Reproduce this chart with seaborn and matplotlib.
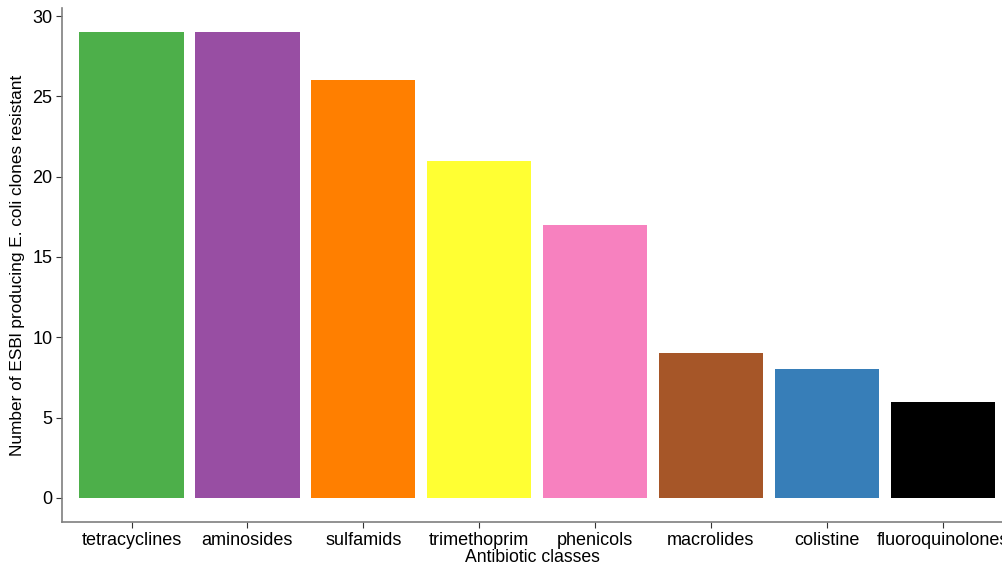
import matplotlib
matplotlib.use("Agg")
import matplotlib.pyplot as plt
import pandas as pd
import seaborn as sns

classes = ["tetracyclines", "aminosides", "sulfamids", "trimethoprim",
           "phenicols", "macrolides", "colistine", "fluoroquinolones"]
n_resistant = [29, 29, 26, 21, 17, 9, 8, 6]
bar_colors = ["#4DAF4A", "#984EA3", "#FF7F00", "#FFFF33",
              "#F781BF", "#A65628", "#377EB8", "#000000"]

df = pd.DataFrame({"cls": classes, "n": n_resistant})

sns.set_style("white")
plt.rcParams["font.family"] = ["Liberation Sans", "DejaVu Sans"]

fig = plt.figure(figsize=(10.03, 5.67), dpi=100)
ax = fig.add_axes([62 / 1003, 45 / 567, 941 / 1003, 514 / 567])

sns.barplot(data=df, x="cls", y="n", hue="cls", palette=bar_colors,
            order=classes, hue_order=classes, width=0.9, legend=False,
            saturation=1, linewidth=0, ax=ax)

ax.set_xlim(-0.6, 7.52)
ax.set_ylim(-1.5, 30.5)
ax.set_yticks([0, 5, 10, 15, 20, 25, 30])

for s in ["top", "right"]:
    ax.spines[s].set_visible(False)
for s in ["left", "bottom"]:
    ax.spines[s].set_color("#7f7f7f")
    ax.spines[s].set_linewidth(1.2)

ax.tick_params(axis="both", which="both", length=4, width=0.8, color="#333333",
               labelsize=13, labelcolor="black", pad=3,
               left=True, bottom=True)
ax.set_xlabel("Antibiotic classes", fontsize=12.7, color="black", labelpad=0)
ax.set_ylabel("Number of ESBl producing E. coli clones resistant",
              fontsize=12.4, color="black", labelpad=5)

fig.savefig("out.png", dpi=100)
